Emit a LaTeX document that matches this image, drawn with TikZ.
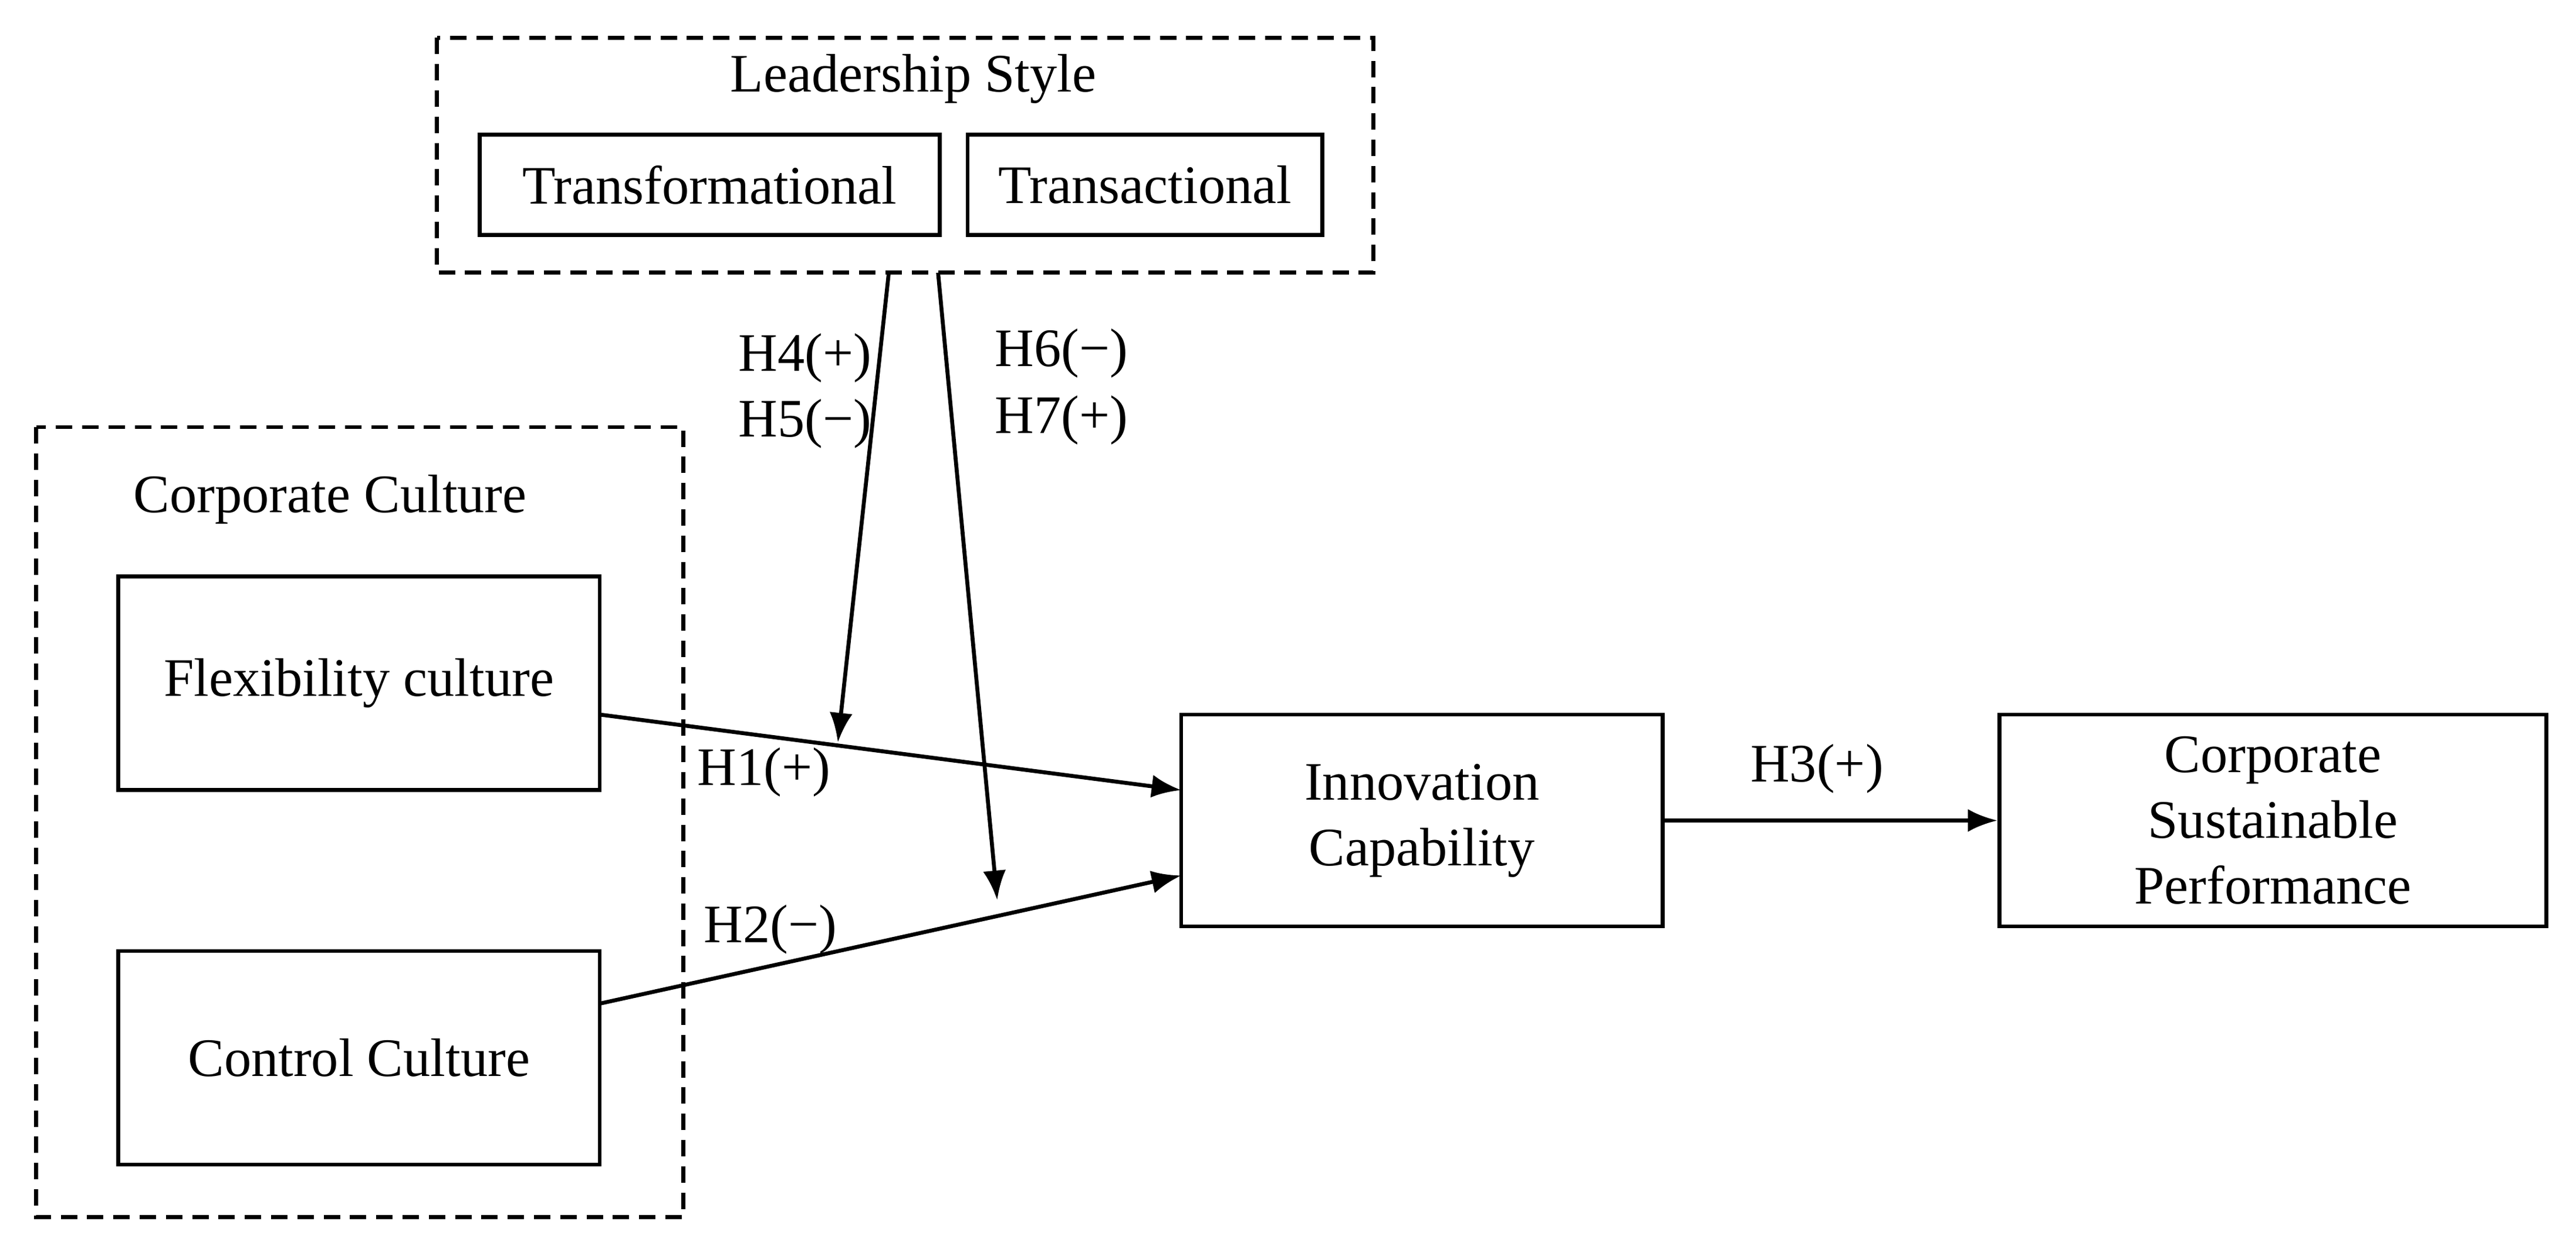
\documentclass[tikz,border=0pt]{standalone}
\usepackage{fontspec}
\setmainfont{Liberation Serif}
\usetikzlibrary{arrows.meta}
\begin{document}
\begin{tikzpicture}[x=0.5pt,y=-0.5pt,
  box/.style={draw,line width=1.2pt,inner sep=0pt,align=center,font=\fontsize{16.5}{20}\selectfont},
  dbox/.style={draw,dashed,line width=1.2pt,dash pattern=on 5pt off 3pt},
  lab/.style={font=\fontsize{16.5}{20}\selectfont,inner sep=0pt},
  arr/.style={line width=1.2pt,-{Latex[length=9pt,width=7pt]}}]
\useasboundingbox (0,0) rectangle (1568,762);
\draw[dbox] (266,23) rectangle (836,166);
\node[lab] (ls) at (556,48) {Leadership Style};
\node[box,minimum width=140pt,minimum height=30.5pt] (tf) at (432,112.5) {Transformational};
\node[box,minimum width=108pt,minimum height=30.5pt] (ta) at (697,112.5) {Transactional};
\draw[dbox] (22,260) rectangle (416,741);
\node[lab] (cc) at (201,304) {Corporate Culture};
\node[box,minimum width=146.5pt,minimum height=65pt] (fc) at (218.5,416) {Flexibility culture};
\node[box,minimum width=146.5pt,minimum height=65pt] (ct) at (218.5,644) {Control Culture};
\node[box,minimum width=146.5pt,minimum height=64.5pt] (ic) at (865.5,499.5) {Innovation\\Capability};
\node[box,minimum width=166.5pt,minimum height=64.5pt] (csp) at (1383.5,499.5) {Corporate\\Sustainable\\Performance};
\coordinate (f1) at (365,435); \coordinate (f2) at (719,481);
\coordinate (c1) at (365,611); \coordinate (c2) at (719,533);
\coordinate (m1) at (541,166); \coordinate (m1e) at (510,452);
\coordinate (m2) at (571,166); \coordinate (m2e) at (607,548);
\draw[arr] (f1) -- (f2);
\draw[arr] (c1) -- (c2);
\draw[arr] (ic.east) -- (csp.west);
\draw[arr] (m1) -- (m1e);
\draw[arr] (m2) -- (m2e);
\node[lab] (h4) at (490,218) {H4(+)};
\node[lab] (h5) at (490,258) {H5(−)};
\node[lab] (h6) at (646,215) {H6(−)};
\node[lab] (h7) at (646,256) {H7(+)};
\node[lab] (h1) at (465,470) {H1(+)};
\node[lab] (h2) at (469,566) {H2(−)};
\node[lab] (h3) at (1106,468) {H3(+)};
\end{tikzpicture}
\end{document}
